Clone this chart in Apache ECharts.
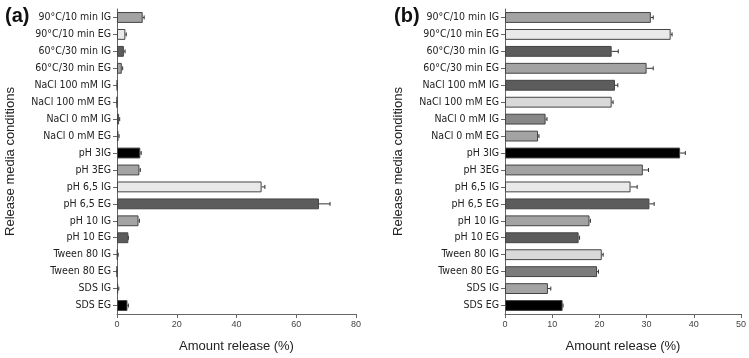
<!DOCTYPE html>
<html>
<head>
<meta charset="utf-8">
<script src="https://cdn.jsdelivr.net/npm/echarts@6/dist/echarts.min.js"></script>
<style>
  html, body { margin: 0; padding: 0; background: #fff; }
  #chart { width: 749px; height: 358px; }
</style>
</head>
<body>
<div id="chart"></div>
<script>
// release media conditions, top to bottom
var categories = [
    '90°C/10 min IG', '90°C/10 min EG', '60°C/30 min IG', '60°C/30 min EG',
    'NaCl 100 mM IG', 'NaCl 100 mM EG', 'NaCl 0 mM IG', 'NaCl 0 mM EG',
    'pH 3IG', 'pH 3EG', 'pH 6,5 IG', 'pH 6,5 EG', 'pH 10 IG', 'pH 10 EG',
    'Tween 80 IG', 'Tween 80 EG', 'SDS IG', 'SDS EG'
];
// panel (a)
var aValues = [8.6, 2.8, 2.3, 1.6, 0.1, 0, 0.7, 0.5, 7.8, 7.5, 48.4, 67.6, 7.2, 3.8, 0.2, 0, 0.4, 3.5];
var aErrors = [0.5, 0.3, 0.4, 0.3, 0, 0, 0.2, 0.2, 0.3, 0.3, 1.1, 3.7, 0.3, 0, 0.2, 0, 0.2, 0.3];
// panel (b)
var bValues = [30.9, 35.1, 22.6, 30.0, 23.3, 22.6, 8.6, 7.0, 37.1, 29.2, 26.6, 30.6, 17.9, 15.6, 20.5, 19.5, 9.1, 12.2];
var bErrors = [0.5, 0.3, 1.4, 1.4, 0.6, 0.3, 0.3, 0.2, 1.1, 1.2, 1.4, 1.0, 0.2, 0.2, 0.3, 0.3, 0.6, 0.1];
// fill of each condition (same in both panels)
var barColors = [
    '#a3a3a3', '#e9e9e9', '#5c5c5c', '#a3a3a3',
    '#5c5c5c', '#d9d9d9', '#878787', '#a3a3a3',
    '#000000', '#a3a3a3', '#e9e9e9', '#5c5c5c', '#a3a3a3', '#5c5c5c',
    '#d9d9d9', '#7c7c7c', '#a3a3a3', '#000000'
];
var aTicks = { min: 0, max: 80, interval: 20 };
var bTicks = { min: 0, max: 50, interval: 10 };

var font = 'DejaVu Sans Condensed, Liberation Sans, Arial, sans-serif';

function xAxisFor(idx, ticks) {
    return {
        type: 'value', gridIndex: idx,
        min: ticks.min, max: ticks.max, interval: ticks.interval,
        name: 'Amount release (%)', nameLocation: 'middle', nameGap: 26,
        nameTextStyle: { fontFamily: 'Liberation Sans, Arial', fontSize: 13, color: '#222' },
        axisLine: { show: true, lineStyle: { color: '#666', width: 1 } },
        axisTick: { show: true, length: 4, lineStyle: { color: '#666' } },
        axisLabel: { fontFamily: 'Liberation Sans, Arial', fontSize: 9, color: '#444', margin: 6 },
        splitLine: { show: false }
    };
}

function yAxisFor(idx) {
    return {
        type: 'category', gridIndex: idx, data: categories, inverse: true,
        name: 'Release media conditions', nameLocation: 'middle', nameGap: 100,
        nameTextStyle: { fontFamily: 'Liberation Sans, Arial', fontSize: 13, color: '#222' },
        axisLine: { show: true, lineStyle: { color: '#666', width: 1 } },
        axisTick: { show: true, length: 4, alignWithLabel: true, lineStyle: { color: '#666' } },
        axisLabel: { fontFamily: font, fontSize: 10.5, color: '#222', margin: 6 },
        splitLine: { show: false }
    };
}

function barSeries(idx, values) {
    return {
        type: 'bar', xAxisIndex: idx, yAxisIndex: idx,
        barCategoryGap: '36%',
        data: values.map(function (v, i) {
            return { value: v, itemStyle: { color: barColors[i] } };
        }),
        itemStyle: { borderColor: '#444', borderWidth: 1 },
        silent: true
    };
}

// error bar: line from bar end to end + err, with a small cap
function errorSeries(idx, values, errors) {
    return {
        type: 'custom', xAxisIndex: idx, yAxisIndex: idx, silent: true,
        data: values.map(function (v, i) { return [i, v, v + errors[i]]; }),
        encode: { y: 0, x: [1, 2] },
        renderItem: function (params, api) {
            var p0 = api.coord([api.value(1), api.value(0)]);
            var p1 = api.coord([api.value(2), api.value(0)]);
            var st = { stroke: '#333', lineWidth: 1 };
            return {
                type: 'group',
                children: [
                    { type: 'line', shape: { x1: p0[0], y1: p0[1], x2: p1[0], y2: p1[1] }, style: st },
                    { type: 'line', shape: { x1: p1[0], y1: p1[1] - 2, x2: p1[0], y2: p1[1] + 2 }, style: st }
                ]
            };
        }
    };
}

var myChart = echarts.init(document.getElementById('chart'));
myChart.setOption({
    backgroundColor: '#fff',
    animation: false,
    title: [
        { text: '(a)', left: 0, top: 1, textStyle: { fontFamily: 'Liberation Sans, Arial', fontSize: 20, fontWeight: 'bold', color: '#111' } },
        { text: '(b)', left: 389, top: 1, textStyle: { fontFamily: 'Liberation Sans, Arial', fontSize: 20, fontWeight: 'bold', color: '#111' } }
    ],
    grid: [
        { left: 117, right: 393, top: 9, bottom: 41 },
        { left: 505, right: 6, top: 9, bottom: 41 }
    ],
    xAxis: [xAxisFor(0, aTicks), xAxisFor(1, bTicks)],
    yAxis: [yAxisFor(0), yAxisFor(1)],
    series: [
        barSeries(0, aValues), errorSeries(0, aValues, aErrors),
        barSeries(1, bValues), errorSeries(1, bValues, bErrors)
    ]
});
</script>
</body>
</html>
